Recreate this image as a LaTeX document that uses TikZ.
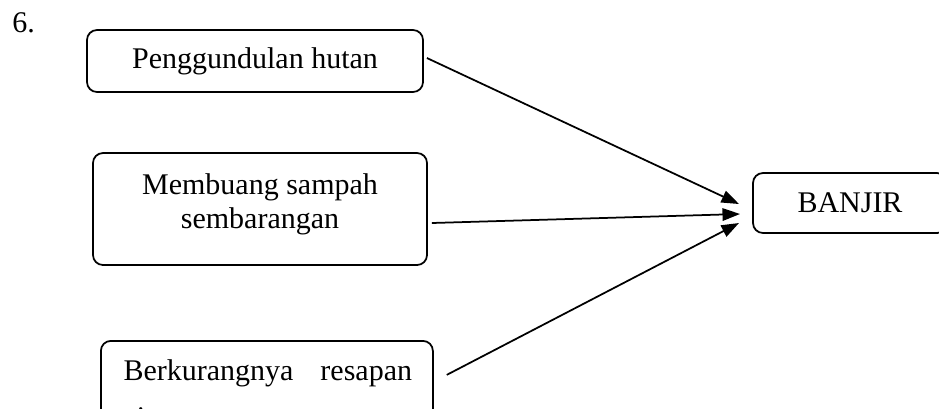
\documentclass[tikz,border=0pt]{standalone}
\usepackage{fontspec}
\setmainfont{Liberation Serif}
\usetikzlibrary{arrows.meta,positioning}
\tikzset{kotak/.style={draw,rectangle,rounded corners=4pt,line width=0.7pt,inner sep=0},
    panah/.style={-{Triangle[length=7pt,width=5pt]},line width=0.7pt},
    teks/.style={font=\fontsize{12}{13.6}\selectfont}
}

\begin{document}
\begin{tikzpicture}[x=0.4pt,y=-0.4pt]

\useasboundingbox (0,0) rectangle (939,408);
\clip (0,0) rectangle (939,408);

\node (nomor) [teks,anchor=base west,inner sep=0] at (12,32) {6.};

% causes

\node (hutan) [kotak,teks,minimum width=134.4pt,minimum height=24.8pt] at (255,61) {Penggundulan hutan};
\node (sampah) [kotak,teks,align=center,minimum width=133.6pt,minimum height=44.8pt] at (260,209) {Membuang sampah\\sembarangan\rule[-6.6pt]{0pt}{6.6pt}};
\node (resapan) [kotak,minimum width=132.8pt,minimum height=40pt,anchor=north west] at (100,340) {};
\node (resapanteks) [font=\fontsize{12}{18.8}\selectfont,anchor=base west,inner sep=0] at (123,380)
    {\begin{tabular}[t]{@{}l@{}}Berkurangnya\hspace{10.8pt}resapan\\air\end{tabular}};

% effect

\node (banjir) [kotak,teks,minimum width=77.6pt,minimum height=24pt] at (850,203) {BANJIR};

\coordinate (ujung1) at (739,204);
\coordinate (ujung2) at (740,214);
\coordinate (ujung3) at (739,223);

\draw [panah] ([xshift=1.2pt,yshift=1.2pt]hutan.east) -- (ujung1);
\draw [panah] ([xshift=1.6pt,yshift=-5.6pt]sampah.east) -- (ujung2);
\draw [panah] ([xshift=5.2pt,yshift=6.4pt]resapan.east) -- (ujung3);

\end{tikzpicture}
\end{document}
